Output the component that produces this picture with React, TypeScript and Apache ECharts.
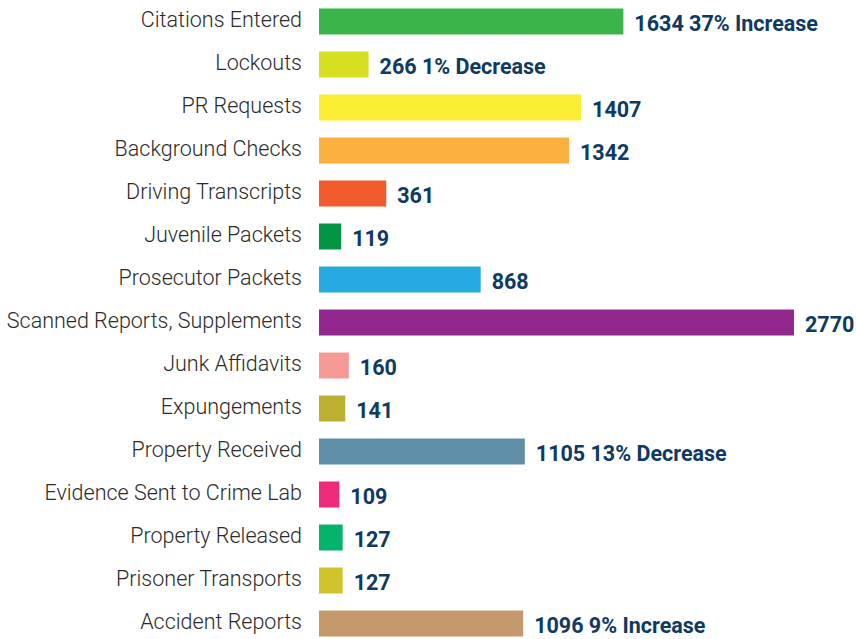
import React, { useEffect, useRef } from "react";
import * as echarts from "echarts";

const categories = [
  "Citations Entered",
  "Lockouts",
  "PR Requests",
  "Background Checks",
  "Driving Transcripts",
  "Juvenile Packets",
  "Prosecutor Packets",
  "Scanned Reports, Supplements",
  "Junk Affidavits",
  "Expungements",
  "Property Received",
  "Evidence Sent to Crime Lab",
  "Property Released",
  "Prisoner Transports",
  "Accident Reports",
];

const values = [1634, 266, 1407, 1342, 361, 119, 868, 2770, 160, 141, 1105, 109, 127, 127, 1096];

const changeNotes = [
  "37% Increase",
  "1% Decrease",
  "",
  "",
  "",
  "",
  "",
  "",
  "",
  "",
  "13% Decrease",
  "",
  "",
  "",
  "9% Increase",
];

const barColors = [
  "#3bb54a",
  "#d7df23",
  "#fbed32",
  "#fbb040",
  "#f15a2b",
  "#009444",
  "#27aae1",
  "#92278f",
  "#f69a97",
  "#bcb033",
  "#5f90a8",
  "#ee2a7b",
  "#06b36a",
  "#d1c32a",
  "#c49a6c",
];

// axis upper bound: the longest bar is cut at the plot edge, as in the original
const axisMax = 2550;

export default function App() {
  const ref = useRef<HTMLDivElement>(null);

  useEffect(() => {
    if (!ref.current) return;
    const chart = echarts.init(ref.current, undefined, { renderer: "svg" });
    chart.setOption({
      animation: false,
      backgroundColor: "#ffffff",
      grid: {
        left: 319,
        right: 62,
        top: 0,
        height: 645,
        containLabel: false,
      },
      xAxis: {
        type: "value",
        min: 0,
        max: axisMax,
        show: false,
      },
      yAxis: {
        type: "category",
        data: categories,
        inverse: true,
        axisLine: { show: false },
        axisTick: { show: false },
        splitLine: { show: false },
        axisLabel: {
          margin: 17,
          formatter: "{c|{value}}",
          rich: {
            c: {
              fontFamily: "Roboto",
              fontWeight: 300,
              fontSize: 21.5,
              color: "#2b2b2b",
              lineHeight: 26,
              padding: [0, 0, 5, 0],
            },
          },
        },
      },
      series: [
        {
          type: "bar",
          barWidth: 26,
          clip: true,
          data: values.map((v, i) => ({
            value: v,
            itemStyle: { color: barColors[i] },
          })),
          label: {
            show: true,
            position: "right",
            distance: 11,
            offset: [0, 2],
            fontFamily: "Roboto",
            fontWeight: "bold",
            fontSize: 21.5,
            color: "#0e3a63",
            formatter: (p: any) => {
              const note = changeNotes[p.dataIndex];
              return note ? `${p.value} ${note}` : `${p.value}`;
            },
          },
        },
      ],
    });
    return () => chart.dispose();
  }, []);

  return (
    <div
      style={{
        position: "absolute",
        left: 0,
        top: 0,
        width: 856,
        height: 639,
        overflow: "hidden",
      }}
    >
      <div ref={ref} style={{ width: 856, height: 660 }} />
    </div>
  );
}
